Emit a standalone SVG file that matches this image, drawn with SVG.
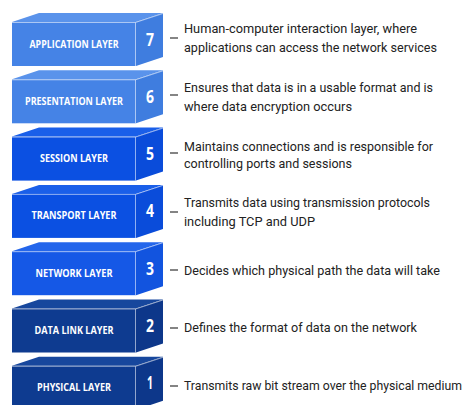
<svg xmlns="http://www.w3.org/2000/svg" width="469" height="405" viewBox="0 0 469 405">
  <style>
    .front { fill: var(--front); }
    .top { fill: var(--top); }
    .side { fill: var(--side); }
    .edge { fill: none; stroke: #ffffff; stroke-opacity: 0.55; stroke-width: 1; }
    .label { font-family: "Open Sans", "Liberation Sans", sans-serif; font-weight: 700; font-size: 10px; fill: #ffffff; text-anchor: middle; }
    .num { font-family: "Open Sans", "Liberation Sans", sans-serif; font-weight: 700; font-size: 18px; fill: #ffffff; text-anchor: middle; }
    .desc { font-family: Roboto, "Liberation Sans", sans-serif; font-size: 12.6px; fill: #222222; }
    .desc.long { font-size: 12.2px; }
    .dash { stroke: #333333; stroke-width: 1.2; }
    .light { --front: #4583e6; --top: #5a93eb; --side: #3f7ddf; }
    .mid { --front: #0b50e2; --top: #1a5fe9; --side: #0a4cda; }
    .net { --front: #1558e6; --top: #2466eb; --side: #1254df; }
    .dark { --front: #0e3b90; --top: #17479d; --side: #0d378a; }
  </style>
  <defs>
    <!-- one box: front face, top face, right side face and its light edges -->
    <g id="box">
      <polygon class="top" points="12,0 39,-9 163,-9 136,0"/>
      <polygon class="side" points="136,0 163,-9 163,35 136,44"/>
      <rect class="front" x="12" y="0" width="124" height="44"/>
      <polyline class="edge" points="12,0.5 135.5,0.5 135.5,44"/>
      <line class="edge" x1="135.5" y1="0.5" x2="163" y2="-8.5"/>
    </g>
  </defs>

  <g id="layer7" class="light" transform="translate(0,22)">
    <use href="#box"/>
    <text class="label" x="74" y="25.5" textLength="89" lengthAdjust="spacingAndGlyphs">APPLICATION LAYER</text>
    <text class="num" x="150" y="23.5" textLength="8" lengthAdjust="spacingAndGlyphs">7</text>
  </g>
  <g id="layer6" class="light" transform="translate(0,79.3)">
    <use href="#box"/>
    <text class="label" x="74" y="25.5" textLength="98" lengthAdjust="spacingAndGlyphs">PRESENTATION LAYER</text>
    <text class="num" x="150" y="23.5" textLength="8" lengthAdjust="spacingAndGlyphs">6</text>
  </g>
  <g id="layer5" class="mid" transform="translate(0,136.6)">
    <use href="#box"/>
    <text class="label" x="74" y="25.5" textLength="68" lengthAdjust="spacingAndGlyphs">SESSION LAYER</text>
    <text class="num" x="150" y="23.5" textLength="8" lengthAdjust="spacingAndGlyphs">5</text>
  </g>
  <g id="layer4" class="mid" transform="translate(0,193.9)">
    <use href="#box"/>
    <text class="label" x="74" y="25.5" textLength="85" lengthAdjust="spacingAndGlyphs">TRANSPORT LAYER</text>
    <text class="num" x="150" y="23.5" textLength="8" lengthAdjust="spacingAndGlyphs">4</text>
  </g>
  <g id="layer3" class="net" transform="translate(0,251.2)">
    <use href="#box"/>
    <text class="label" x="74" y="25.5" textLength="77" lengthAdjust="spacingAndGlyphs">NETWORK LAYER</text>
    <text class="num" x="150" y="23.5" textLength="8" lengthAdjust="spacingAndGlyphs">3</text>
  </g>
  <g id="layer2" class="dark" transform="translate(0,308.5)">
    <use href="#box"/>
    <text class="label" x="74" y="25.5" textLength="79" lengthAdjust="spacingAndGlyphs">DATA LINK LAYER</text>
    <text class="num" x="150" y="23.5" textLength="8" lengthAdjust="spacingAndGlyphs">2</text>
  </g>
  <g id="layer1" class="dark" transform="translate(0,365.8)">
    <use href="#box"/>
    <text class="label" x="74" y="25.5" textLength="74" lengthAdjust="spacingAndGlyphs">PHYSICAL LAYER</text>
    <text class="num" x="150" y="23.5" textLength="6" lengthAdjust="spacingAndGlyphs">1</text>
  </g>

  <!-- leader dashes from each box to its description -->
  <g id="connectors">
    <line class="dash" x1="170" y1="38" x2="178" y2="38"/>
    <line class="dash" x1="170" y1="95" x2="178" y2="95"/>
    <line class="dash" x1="170" y1="153" x2="178" y2="153"/>
    <line class="dash" x1="170" y1="212" x2="178" y2="212"/>
    <line class="dash" x1="170" y1="270" x2="178" y2="270"/>
    <line class="dash" x1="170" y1="328" x2="178" y2="328"/>
    <line class="dash" x1="170" y1="386" x2="178" y2="386"/>
  </g>

  <g id="descriptions">
    <text class="desc" x="184" y="33" textLength="233" lengthAdjust="spacingAndGlyphs">Human-computer interaction layer, where</text>
    <text class="desc" x="184" y="52" textLength="253" lengthAdjust="spacingAndGlyphs">applications can access the network services</text>
    <text class="desc" x="184" y="92" textLength="249" lengthAdjust="spacingAndGlyphs">Ensures that data is in a usable format and is</text>
    <text class="desc" x="184" y="111" textLength="168" lengthAdjust="spacingAndGlyphs">where data encryption occurs</text>
    <text class="desc" x="184" y="151" textLength="249" lengthAdjust="spacingAndGlyphs">Maintains connections and is responsible for</text>
    <text class="desc" x="184" y="168" textLength="168" lengthAdjust="spacingAndGlyphs">controlling ports and sessions</text>
    <text class="desc" x="184" y="207" textLength="246" lengthAdjust="spacingAndGlyphs">Transmits data using transmission protocols</text>
    <text class="desc" x="184" y="226" textLength="131" lengthAdjust="spacingAndGlyphs">including TCP and UDP</text>
    <text class="desc" x="184" y="275" textLength="256" lengthAdjust="spacingAndGlyphs">Decides which physical path the data will take</text>
    <text class="desc" x="184" y="332" textLength="233" lengthAdjust="spacingAndGlyphs">Defines the format of data on the network</text>
    <text class="desc long" x="184" y="390" textLength="278" lengthAdjust="spacingAndGlyphs">Transmits raw bit stream over the physical medium</text>
  </g>
</svg>
